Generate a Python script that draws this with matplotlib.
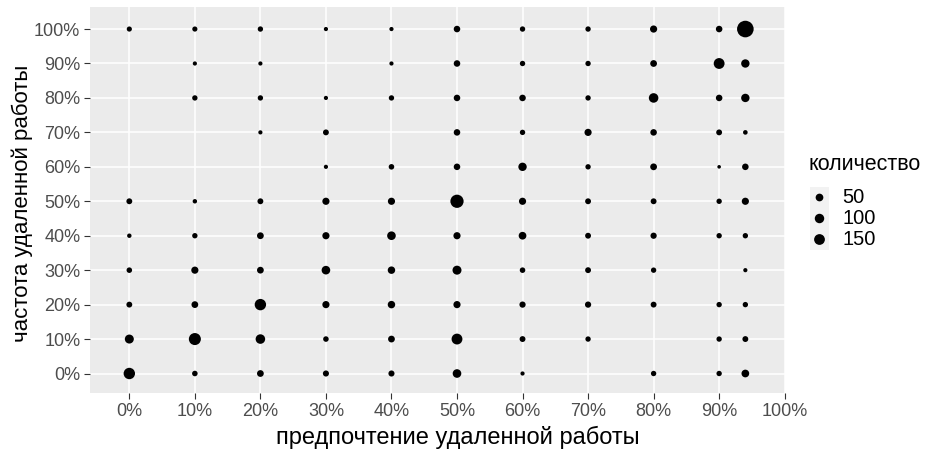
import numpy as np
import matplotlib
matplotlib.use("Agg")
import matplotlib.pyplot as plt

plt.rcParams['font.family'] = ['Liberation Sans', 'DejaVu Sans']

# предпочтение (x) и частота (y) удаленной работы, %
pref = [0, 10, 20, 30, 40, 50, 60, 70, 80, 90, 94]
freq = [0, 10, 20, 30, 40, 50, 60, 70, 80, 90, 100]

# counts[row = freq][col = pref], 0 = no point
counts = [
    [177, 12, 30, 19, 19, 74, 2, 0, 10, 10, 50],      # 0%
    [85, 207, 103, 12, 30, 153, 16, 10, 0, 10, 16],    # 10%
    [16, 30, 177, 38, 44, 38, 21, 21, 16, 10, 10],     # 20%
    [12, 38, 30, 74, 44, 85, 12, 16, 10, 0, 2],        # 30%
    [3, 10, 30, 38, 74, 38, 50, 16, 21, 10, 10],       # 40%
    [16, 3, 16, 38, 38, 269, 38, 16, 16, 10, 38],      # 50%
    [0, 0, 0, 2, 12, 26, 67, 10, 30, 1, 26],           # 60%
    [0, 0, 2, 16, 0, 26, 10, 38, 26, 16, 4],           # 70%
    [0, 10, 10, 2, 10, 26, 26, 10, 103, 26, 67],       # 80%
    [0, 2, 2, 0, 2, 26, 10, 10, 30, 153, 67],          # 90%
    [8, 8, 10, 2, 2, 26, 10, 10, 38, 26, 490],         # 100%
]

legend_vals = [50, 100, 150]
ticks = [0, 10, 20, 30, 40, 50, 60, 70, 80, 90, 100]
tick_labels = [f"{t}%" for t in ticks]

DPI = 100
W, H = 930, 454
cmin, cmax = 1, 490


def size_pt2(c):
    # ggplot-like area scale (sqrt of count) plus a fixed stroke
    c = np.asarray(c, dtype=float)
    d_px = 1.0 + 2.6 * (1 + 5 * np.sqrt((c - cmin) / (cmax - cmin)))
    return (d_px * 72 / DPI) ** 2


xs, ys, cs = [], [], []
for i, fy in enumerate(freq):
    for j, px in enumerate(pref):
        if counts[i][j] > 0:
            xs.append(px)
            ys.append(fy)
            cs.append(counts[i][j])

fig = plt.figure(figsize=(W / DPI, H / DPI), dpi=DPI)
ax = fig.add_axes([90 / W, 1 - 393 / H, (785 - 90) / W, (393 - 7) / H])
ax.set_facecolor('#EBEBEB')
for s in ax.spines.values():
    s.set_visible(False)
ax.grid(True, color='white', linewidth=1.1)
ax.set_axisbelow(True)

ax.scatter(xs, ys, s=size_pt2(cs), c='black', linewidths=0, zorder=3)

ax.set_xlim(-6, 100.05)
ax.set_ylim(-5.66, 106.4)
ax.set_xticks(ticks)
ax.set_xticklabels(tick_labels)
ax.set_yticks(ticks)
ax.set_yticklabels(tick_labels)
ax.tick_params(axis='both', colors='#333333', length=4, width=0.8,
               labelsize=13, labelcolor='#4D4D4D', pad=3)

ax.set_xlabel('предпочтение удаленной работы', fontsize=17, va='top')
ax.xaxis.set_label_coords((458 - 90) / 695, -(426 - 393) / 386)
ax.set_ylabel('частота удаленной работы', fontsize=16, va='center', ha='center')
ax.yaxis.set_label_coords(-(90 - 22) / 695, 0.49)

# legend
fig.text(808 / W, 1 - 165 / H, 'количество', fontsize=15.5, va='center', ha='left')
lax = fig.add_axes([810 / W, 1 - 250 / H, 19 / W, 63 / H])
lax.set_facecolor('#F2F2F2')
for s in lax.spines.values():
    s.set_visible(False)
lax.set_xticks([])
lax.set_yticks([])
lax.set_xlim(0, 1)
lax.set_ylim(len(legend_vals), 0)
lpos = np.arange(len(legend_vals)) + 0.5
lax.scatter([0.5] * len(legend_vals), lpos, s=size_pt2(legend_vals), c='black',
            linewidths=0)
for v, p in zip(legend_vals, lpos):
    lax.text(1.7, p, str(v), fontsize=14.5, va='center', ha='left',
             transform=lax.transData, clip_on=False)

fig.savefig('out.png', dpi=DPI)
